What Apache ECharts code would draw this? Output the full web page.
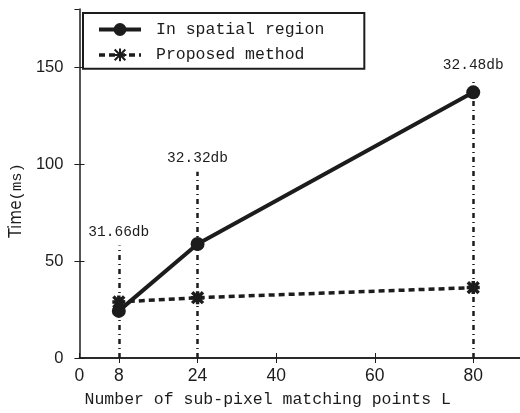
<!DOCTYPE html>
<html>
<head>
<meta charset="utf-8">
<script src="https://cdn.jsdelivr.net/npm/echarts@6/dist/echarts.min.js"></script>
<style>
  html, body { margin: 0; padding: 0; background: #fff; }
  #chart { width: 520px; height: 413px; }
</style>
</head>
<body>
<div id="chart"></div>
<script>
// data
const pointsL = [8, 24, 80];
const spatialTime = [24.3, 58.8, 137];
const proposedTime = [28.9, 31.1, 36.3];
const psnrTop = [58, 96, 144];
const psnrLabels = ['31.66db', '32.32db', '32.48db'];
const xTicks = [0, 8, 24, 40, 60, 80];
const xTopTicks = [8, 24, 40, 60, 80];

const INK = '#1c1c1c';
const MONO = '"Liberation Mono", "DejaVu Sans Mono", monospace';
const SANS = '"Liberation Sans", sans-serif';
const STAR = 'path://M-1,-1L1,1M1,-1L-1,1M-1.2,0L1.2,0M0,-1.2L0,1.2';

const chart = echarts.init(document.getElementById('chart'));

const axisLine = { show: true, lineStyle: { color: INK, width: 1.5 } };

chart.setOption({
  backgroundColor: '#ffffff',
  animation: false,
  grid: { left: 77, top: 9, right: 0, bottom: 54 },
  legend: {
    data: [
      { name: 'In spatial region', lineStyle: { width: 4 } },
      { name: 'Proposed method', lineStyle: { width: 3.5, type: [6, 4] } }
    ],
    orient: 'vertical',
    left: 83, top: 13,
    padding: [8, 40, 5, 14],
    itemWidth: 42, itemHeight: 16, itemGap: 8,
    borderColor: INK, borderWidth: 2,
    backgroundColor: '#fff',
    textStyle: { fontFamily: MONO, fontSize: 16.5, color: INK, padding: [0, 0, 0, 10] }
  },
  xAxis: [{
    type: 'value', min: 0, max: 89.5, position: 'bottom',
    name: 'Number of sub-pixel matching points L',
    nameLocation: 'middle', nameGap: 33,
    nameTextStyle: { fontFamily: MONO, fontSize: 16.5, color: INK, padding: [0, 64, 0, 0] },
    axisLine: axisLine,
    axisTick: { inside: true, length: 5, customValues: xTicks, lineStyle: { color: INK } },
    axisLabel: { customValues: xTicks, fontFamily: SANS, fontSize: 17.5, color: INK, margin: 9 },
    splitLine: { show: false }
  }, {
    type: 'value', min: 0, max: 89.5, position: 'top',
    axisLine: axisLine,
    axisTick: { inside: true, length: 5, customValues: xTopTicks, lineStyle: { color: INK } },
    axisLabel: { show: false },
    splitLine: { show: false }
  }],
  yAxis: [{
    type: 'value', min: 0, max: 180, interval: 50, position: 'left',
    name: '{a|Time}{b|(ms)}', nameLocation: 'middle', nameGap: 42, nameRotate: 90,
    nameTextStyle: {
      color: INK, padding: [0, 34, 0, 0],
      rich: {
        a: { fontFamily: '"DejaVu Sans Condensed", sans-serif', fontSize: 17, color: INK },
        b: { fontFamily: MONO, fontSize: 15.5, color: INK }
      }
    },
    axisLine: axisLine,
    axisTick: { inside: true, length: 5, lineStyle: { color: INK } },
    axisLabel: { fontFamily: SANS, fontSize: 16.5, color: INK, margin: 16, showMaxLabel: false },
    splitLine: { show: false }
  }, {
    type: 'value', min: 0, max: 180, interval: 50, position: 'right',
    axisLine: { show: false },
    axisTick: { inside: true, length: 5, lineStyle: { color: INK } },
    axisLabel: { show: false },
    splitLine: { show: false }
  }],
  series: [{
    name: 'psnr',
    type: 'line',
    data: [],
    silent: true,
    z: 1,
    markLine: {
      silent: true,
      symbol: ['none', 'none'],
      lineStyle: { color: INK, width: 2.5, type: [5, 4, 1, 4] },
      label: { show: true, position: 'end', distance: 6, fontFamily: MONO, fontSize: 14.5, color: INK,
        formatter: p => psnrLabels[p.dataIndex] },
      data: pointsL.map((x, i) => [{ coord: [x, 0] }, { coord: [x, psnrTop[i]] }])
    }
  }, {
    name: 'In spatial region',
    type: 'line',
    z: 3,
    data: pointsL.map((x, i) => [x, spatialTime[i]]),
    symbol: 'circle', symbolSize: 14,
    lineStyle: { color: INK, width: 4 },
    itemStyle: { color: INK }
  }, {
    name: 'Proposed method',
    type: 'line',
    z: 3,
    data: pointsL.map((x, i) => [x, proposedTime[i]]),
    symbol: STAR, symbolSize: 13,
    lineStyle: { color: INK, width: 3.5, type: [6, 4] },
    itemStyle: { color: 'none', borderColor: INK, borderWidth: 3.5 }
  }]
});

window.addEventListener('resize', () => chart.resize());
</script>
</body>
</html>
